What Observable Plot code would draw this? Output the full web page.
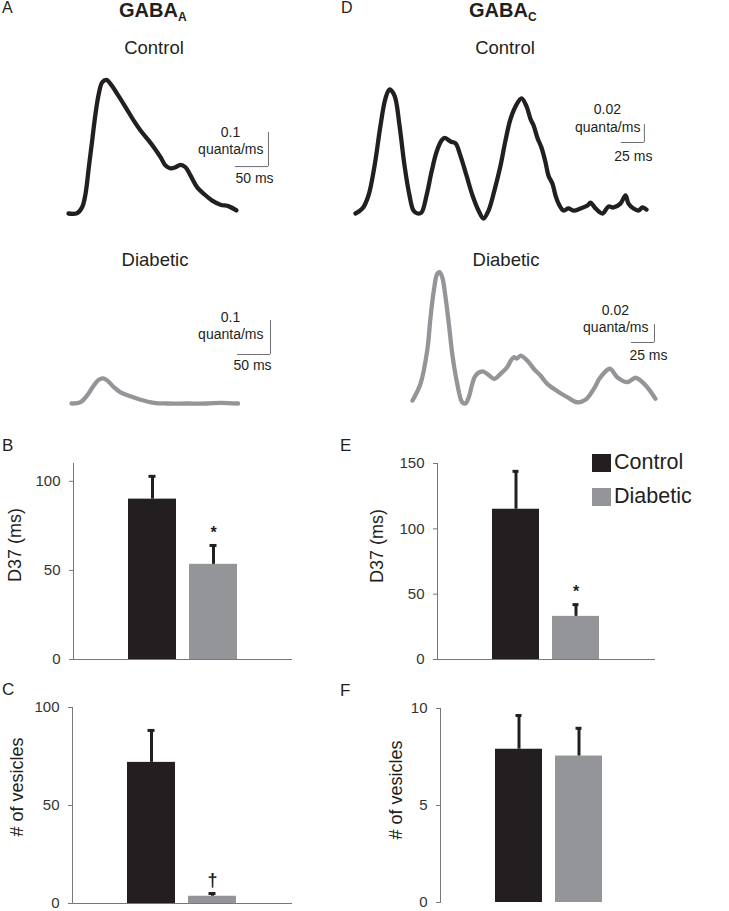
<!DOCTYPE html>
<html><head><meta charset="utf-8">
<script src="https://cdn.jsdelivr.net/npm/d3@7"></script>
<script src="https://cdn.jsdelivr.net/npm/@observablehq/plot@0.6"></script>
<style>
body{margin:0;background:#fff;}
#fig{position:relative;width:729px;height:911px;font-family:"Liberation Sans",Arial,Helvetica,sans-serif;color:#231f20;overflow:hidden;background:#fff}
.t{position:absolute;white-space:nowrap;line-height:1}
.rot{position:absolute;white-space:nowrap;line-height:1;transform:translate(-50%,-50%) rotate(-90deg)}
.panel{position:absolute}
.panel svg{overflow:visible;display:block}
</style></head><body><div id="fig"></div>
<script>
// ---------- DATA ----------
const groups = ["Control", "Diabetic"];
const groupColors = ["#231f20", "#939598"];

// GABA_A quantal release rate traces (time in ms, rate in quanta/ms)
const gabaA_control_ms   = [0, 13.2, 20.8, 25.8, 30.8, 35.9, 40.9, 45.9, 51.1, 57.6, 63.6, 73.8, 86.4, 98.9, 109.1, 119.2, 129.2, 139.4, 147.0, 154.5, 162.1, 169.7, 177.3, 184.8, 195.0, 205.0, 217.7, 230.3, 242.9, 254.5];
const gabaA_control_rate = [0, 0.001, 0.019, 0.058, 0.136, 0.215, 0.293, 0.352, 0.386, 0.393, 0.381, 0.352, 0.313, 0.273, 0.244, 0.220, 0.195, 0.166, 0.141, 0.133, 0.136, 0.143, 0.136, 0.112, 0.077, 0.058, 0.038, 0.026, 0.021, 0.009];
const gabaA_diabetic_ms   = [0, 13.6, 23.8, 33.8, 41.4, 48.0, 54.1, 64.1, 74.2, 89.4, 104.6, 124.7, 144.9, 175.2, 205.5, 225.6, 252.4];
const gabaA_diabetic_rate = [0, 0.004, 0.024, 0.053, 0.070, 0.074, 0.068, 0.048, 0.033, 0.021, 0.011, 0.002, 0, 0, 0, 0.002, 0];

// GABA_C traces
const gabaC_control_ms   = [0, 7.6, 14.1, 20.7, 27.2, 32.6, 37.0, 42.4, 47.8, 53.3, 58.7, 63.0, 67.4, 71.7, 77.2, 82.6, 88.0, 93.5, 96.7, 103.3, 108.7, 114.1, 120.7, 127.2, 133.7, 139.1, 144.6, 151.1, 157.6, 163.0, 168.5, 175.0, 180.4, 185.9, 190.2, 193.5, 197.8, 202.2, 206.5, 209.8, 214.1, 217.4, 220.7, 226.1, 231.5, 237.0, 244.6, 252.2, 255.4, 260.9, 268.5, 275.0, 280.4, 288.0, 293.5, 296.7, 302.2, 307.6, 312.0, 316.3];
const gabaC_control_rate = [0, 0.0056, 0.020, 0.053, 0.098, 0.128, 0.138, 0.131, 0.098, 0.053, 0.020, 0.0033, 0, 0.0011, 0.020, 0.046, 0.068, 0.081, 0.084, 0.080, 0.078, 0.064, 0.042, 0.020, 0.0033, -0.0056, 0.0033, 0.026, 0.053, 0.081, 0.105, 0.121, 0.128, 0.119, 0.105, 0.098, 0.084, 0.073, 0.057, 0.042, 0.033, 0.020, 0.011, 0.0033, 0.0056, 0.0033, 0.0056, 0.0089, 0.012, 0.0056, 0, 0.0078, 0.0067, 0.011, 0.020, 0.011, 0.0056, 0.0033, 0.0067, 0.0044];
const gabaC_diabetic_ms   = [0, 8.7, 16.0, 19.6, 23.2, 26.8, 29.3, 32.3, 35.9, 39.5, 43.2, 48.6, 54.0, 57.6, 61.2, 65.0, 68.5, 75.8, 81.2, 89.1, 95.7, 102.9, 106.5, 110.1, 113.7, 117.4, 124.7, 131.8, 139.1, 146.4, 153.6, 160.9, 168.2, 179.0, 188.0, 197.1, 204.3, 214.5, 222.5, 233.4, 242.4, 247.8, 255.1, 264.1];
const gabaC_diabetic_rate = [0.0033, 0.0219, 0.0589, 0.0959, 0.1256, 0.1441, 0.1459, 0.1403, 0.1181, 0.0886, 0.0552, 0.0219, 0.0014, 0, 0.0070, 0.0219, 0.0311, 0.0356, 0.0330, 0.0274, 0.0330, 0.0403, 0.0470, 0.0514, 0.0500, 0.0533, 0.0478, 0.0386, 0.0311, 0.0219, 0.0163, 0.0114, 0.0070, 0.0014, 0.0041, 0.0163, 0.0292, 0.0386, 0.0292, 0.0237, 0.0286, 0.0256, 0.0181, 0.0052];

// Scale bars [time ms, rate quanta/ms]
const scaleA = [50, 0.1];
const scaleC = [25, 0.02];
const scaleLabelsA = ["0.1", "quanta/ms", "50 ms"];
const scaleLabelsC = ["0.02", "quanta/ms", "25 ms"];

// D37 (ms): mean and SEM
const d37_gabaA_mean = [90, 53.4];
const d37_gabaA_sem  = [12.8, 10.6];
const d37_gabaC_mean = [115, 33];
const d37_gabaC_sem  = [29, 9];
// # of vesicles
const ves_gabaA_mean = [72, 3.7];
const ves_gabaA_sem  = [16.3, 1.4];
const ves_gabaC_mean = [7.9, 7.55];
const ves_gabaC_sem  = [1.74, 1.43];
// significance marks
const sig_d37A = ["", "*"];
const sig_d37C = ["", "*"];
const sig_vesA = ["", "†"];
const sig_vesC = ["", ""];

// tick values
const ticks_d37A = [0, 50, 100];
const ticks_d37C = [0, 50, 100, 150];
const ticks_vesA = [0, 50, 100];
const ticks_vesC = [0, 5, 10];

// ---------- LAYOUT ----------
const fig = document.getElementById("fig");
const FONT = '"Liberation Sans", Arial, Helvetica, sans-serif';
const INK = "#231f20";
const AXIS = "#77787b";

function txt(html, x, baseline, size, opts = {}) {
  const d = document.createElement("div");
  d.className = "t";
  d.innerHTML = html;
  d.style.fontSize = size + "px";
  d.style.top = (baseline - 0.8465 * size) + "px";
  d.style.left = x + "px";
  if (opts.weight) d.style.fontWeight = opts.weight;
  if (opts.center) d.style.transform = "translateX(-50%)";
  fig.appendChild(d);
  return d;
}
function rotTxt(str, cx, cy, size) {
  const d = document.createElement("div");
  d.className = "rot";
  d.textContent = str;
  d.style.fontSize = size + "px";
  d.style.left = cx + "px";
  d.style.top = cy + "px";
  fig.appendChild(d);
}
function place(el, left, top) {
  const w = document.createElement("div");
  w.className = "panel";
  w.style.left = left + "px";
  w.style.top = top + "px";
  w.appendChild(el);
  fig.appendChild(w);
}

function tracePlot({left, top, width, height, x0, y0, kx, ky, ms, rate, color, bar, barLabels, corner, off}) {
  const xdom = [-x0 / kx, (width - x0) / kx];
  const ydom = [-(height - y0) / ky, y0 / ky];
  const data = ms.map((t, i) => ({t, r: rate[i]}));
  const [ct, cr] = corner;
  const plot = Plot.plot({
    width, height, margin: 0,
    style: {fontFamily: FONT, color: INK, background: "transparent", overflow: "visible"},
    x: {domain: xdom, axis: null},
    y: {domain: ydom, axis: null},
    marks: [
      Plot.line(data, {x: "t", y: "r", stroke: color, strokeWidth: 4.3, curve: "catmull-rom", strokeLinejoin: "round", strokeLinecap: "round"}),
      Plot.ruleX([ct], {y1: cr, y2: cr + bar[1], stroke: "#6d6e71", strokeWidth: 1}),
      Plot.ruleY([cr], {x1: ct - bar[0], x2: ct, stroke: "#6d6e71", strokeWidth: 1}),
      Plot.text([barLabels[0]], {x: ct, y: cr, text: d => d, dx: off[0][0], dy: off[0][1], fontSize: 14, fill: INK, textAnchor: "middle"}),
      Plot.text([barLabels[1]], {x: ct, y: cr, text: d => d, dx: off[1][0], dy: off[1][1], fontSize: 14, fill: INK, textAnchor: "end"}),
      Plot.text([barLabels[2]], {x: ct, y: cr, text: d => d, dx: off[2][0], dy: off[2][1], fontSize: 14, fill: INK, textAnchor: "middle"})
    ]
  });
  place(plot, left, top);
}

function barPlot({left, top, width, height, mL, mR, mT, mB, ymax, ticks, means, sems, sig, xLine, sigSize}) {
  const data = groups.map((g, i) => ({g, m: means[i], hi: means[i] + sems[i], s: sig[i]}));
  const plot = Plot.plot({
    width, height, marginLeft: mL, marginRight: mR, marginTop: mT, marginBottom: mB,
    style: {fontFamily: FONT, color: INK, background: "transparent", overflow: "visible"},
    x: {domain: groups, paddingInner: 0.211, paddingOuter: 0.894, axis: null},
    y: {domain: [0, ymax], axis: null},
    color: {domain: groups, range: groupColors},
    marks: [
      Plot.barY(data, {x: "g", y: "m", fill: "g"}),
      Plot.ruleX(data, {x: "g", y1: "m", y2: "hi", stroke: INK, strokeWidth: 3}),
      Plot.tickY(data, {x: "g", y: "hi", insetLeft: 20.5, insetRight: 20.5, stroke: INK, strokeWidth: 3}),
      Plot.text(data, {x: "g", y: "hi", text: "s", dy: -13, fontSize: sigSize, fontWeight: "bold", fill: INK}),
      Plot.axisY({ticks, tickSize: 4, tickPadding: 9, fontSize: 15, stroke: AXIS, fill: "#333", label: null}),
      Plot.frame({anchor: "left", stroke: AXIS}),
      xLine ? Plot.ruleY([0], {stroke: AXIS}) : null
    ]
  });
  place(plot, left, top);
}

// ---------- TEXT ----------
txt("A", 2, 14, 16);
txt("D", 341, 14, 16);
txt('GABA<span style="font-size:12px;position:relative;top:4px">A</span>', 119, 17, 20, {weight: "bold"});
txt('GABA<span style="font-size:12px;position:relative;top:4px">C</span>', 469, 17, 20, {weight: "bold"});
txt("Control", 154, 55, 18.5, {center: true});
txt("Control", 505, 55, 18.5, {center: true});
txt("Diabetic", 155, 267, 18.5, {center: true});
txt("Diabetic", 506, 267, 18.5, {center: true});
txt("B", 2, 451, 17);
txt("E", 340, 451, 17);
txt("C", 2, 695, 17);
txt("F", 340, 696, 17);
rotTxt("D37 (ms)", 15, 545, 18);
rotTxt("D37 (ms)", 377, 546, 18);
rotTxt("# of vesicles", 17, 787, 18);
rotTxt("# of vesicles", 396, 790, 18);

// ---------- TRACES ----------
tracePlot({left: 0, top: 60, width: 340, height: 170, x0: 68, y0: 153, kx: 0.66, ky: 340,
  ms: gabaA_control_ms, rate: gabaA_control_rate, color: INK, bar: scaleA, barLabels: scaleLabelsA,
  corner: [303, 0.138], off: [[-38, -34], [-5, -17], [-14, 12]]});
tracePlot({left: 0, top: 280, width: 340, height: 140, x0: 71, y0: 123, kx: 0.66, ky: 340,
  ms: gabaA_diabetic_ms, rate: gabaA_diabetic_rate, color: "#939598", bar: scaleA, barLabels: scaleLabelsA,
  corner: [301.5, 0.144], off: [[-40, -37], [-7, -20], [-18, 11]]});
tracePlot({left: 340, top: 60, width: 389, height: 170, x0: 15, y0: 153, kx: 0.92, ky: 900,
  ms: gabaC_control_ms, rate: gabaC_control_rate, color: INK, bar: scaleC, barLabels: scaleLabelsC,
  corner: [314, 0.0789], off: [[-37, -33], [-4, -15], [-11, 14]]});
tracePlot({left: 340, top: 280, width: 389, height: 140, x0: 72, y0: 123, kx: 0.92, ky: 900,
  ms: gabaC_diabetic_ms, rate: gabaC_diabetic_rate, color: "#939598", bar: scaleC, barLabels: scaleLabelsC,
  corner: [263, 0.0678], off: [[-39, -32], [-6, -15], [-6, 13]]});

// ---------- BARS ----------
barPlot({left: 0, top: 440, width: 340, height: 240, mL: 73, mR: 48, mT: 23, mB: 21, ymax: 110,
  ticks: ticks_d37A, means: d37_gabaA_mean, sems: d37_gabaA_sem, sig: sig_d37A, xLine: true, sigSize: 16});
barPlot({left: 340, top: 440, width: 389, height: 240, mL: 97, mR: 74, mT: 23, mB: 21, ymax: 150,
  ticks: ticks_d37C, means: d37_gabaC_mean, sems: d37_gabaC_sem, sig: sig_d37C, xLine: true, sigSize: 16});
barPlot({left: 0, top: 690, width: 340, height: 221, mL: 72, mR: 48, mT: 17, mB: 8, ymax: 100,
  ticks: ticks_vesA, means: ves_gabaA_mean, sems: ves_gabaA_sem, sig: sig_vesA, xLine: true, sigSize: 18});
barPlot({left: 340, top: 690, width: 389, height: 221, mL: 100, mR: 71, mT: 18, mB: 9, ymax: 10,
  ticks: ticks_vesC, means: ves_gabaC_mean, sems: ves_gabaC_sem, sig: sig_vesC, xLine: false, sigSize: 16});

// ---------- LEGEND ----------
groups.forEach((g, i) => {
  const sw = document.createElement("div");
  sw.style.cssText = `position:absolute;left:592px;top:${454 + i * 34}px;width:19px;height:18px;background:${groupColors[i]}`;
  fig.appendChild(sw);
  txt(g, 614, 470 + i * 34, 21.5);
});
</script></body></html>
